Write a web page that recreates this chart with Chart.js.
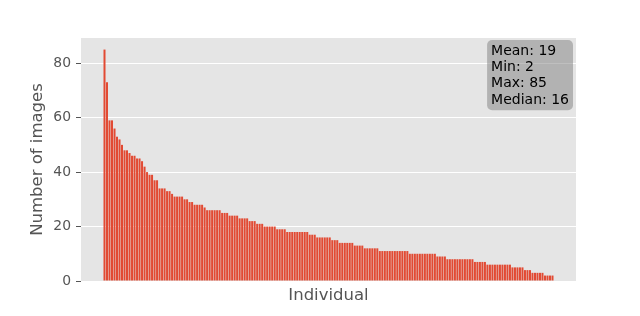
<!DOCTYPE html>
<html>
<head>
<meta charset="utf-8">
<script src="https://cdn.jsdelivr.net/npm/chart.js@4.4.1/dist/chart.umd.min.js"></script>
<style>
html,body{margin:0;padding:0;background:#fff;}
#wrap{width:640px;height:316px;position:relative;}
</style>
</head>
<body>
<div id="wrap"><canvas id="c" width="640" height="316"></canvas></div>
<script>
// Number of images per individual, sorted descending
const counts = [
 85,73,59,59,56,53,52,50,48,48,47,46,46,45,45,44,42,40,39,39,
 37,37,34,34,34,33,33,32,31,31,31,31,30,30,29,29,28,28,28,28,
 27,26,26,26,26,26,26,25,25,25,24,24,24,24,23,23,23,23,22,22,
 22,21,21,21,20,20,20,20,20,19,19,19,19,18,18,18,18,18,18,18,
 18,18,17,17,17,16,16,16,16,16,16,15,15,15,14,14,14,14,14,14,
 13,13,13,13,12,12,12,12,12,12,11,11,11,11,11,11,11,11,11,11,
 11,11,10,10,10,10,10,10,10,10,10,10,10,9,9,9,9,8,8,8,
 8,8,8,8,8,8,8,8,7,7,7,7,7,6,6,6,6,6,6,6,
 6,6,6,5,5,5,5,5,4,4,4,3,3,3,3,3,2,2,2,2
];
const yTicks = [0, 20, 40, 60, 80];
const xTitle = "Individual";
const yTitle = "Number of images";

const sorted = [...counts].sort((a,b)=>a-b);
const n = counts.length;
const mean = counts.reduce((a,b)=>a+b,0)/n;
const median = n%2 ? sorted[(n-1)/2] : (sorted[n/2-1]+sorted[n/2])/2;
const statLines = [
  "Mean: " + Math.round(mean),
  "Min: " + Math.min(...counts),
  "Max: " + Math.max(...counts),
  "Median: " + Math.round(median)
];

const points = counts.map((v,i)=>({x:i, y:v}));
const span = (n - 1) + 0.8;
const xMin = -0.4 - 0.05*span;
const xMax = (n - 1) + 0.4 + 0.05*span;
const yMax = Math.max(...counts)*1.05;

const bgPlugin = {
  id:'bg',
  beforeDraw(chart){
    const {ctx, chartArea:a} = chart;
    ctx.save();
    ctx.fillStyle = '#E5E5E5';
    ctx.fillRect(a.left, a.top, a.right-a.left, a.bottom-a.top);
    ctx.restore();
  }
};

const statsPlugin = {
  id:'stats',
  afterDatasetsDraw(chart){
    const {ctx, chartArea:a} = chart;
    ctx.save();
    ctx.font = '14px "DejaVu Sans"';
    const lh = 16.3;
    let w = 0;
    statLines.forEach(s=>{ w = Math.max(w, ctx.measureText(s).width); });
    const padX = 4, padY = 2.5;
    const bw = w + padX*2, bh = lh*statLines.length + padY*2;
    const x = a.right - 3 - bw, y = a.top + 2;
    const r = 5;
    ctx.beginPath();
    ctx.moveTo(x+r, y);
    ctx.arcTo(x+bw, y, x+bw, y+bh, r);
    ctx.arcTo(x+bw, y+bh, x, y+bh, r);
    ctx.arcTo(x, y+bh, x, y, r);
    ctx.arcTo(x, y, x+bw, y, r);
    ctx.closePath();
    ctx.fillStyle = 'rgba(128,128,128,0.5)';
    ctx.fill();
    ctx.fillStyle = '#000';
    ctx.textBaseline = 'middle';
    statLines.forEach((s,i)=>{
      ctx.fillText(s, x + padX, y + padY + lh*i + lh/2 + 0.5);
    });
    ctx.restore();
  }
};

new Chart(document.getElementById('c'), {
  type:'bar',
  data:{
    datasets:[{
      data: points,
      backgroundColor:'#E24A33',
      borderWidth:0,
      barPercentage:0.8,
      categoryPercentage:1.0
    }]
  },
  options:{
    responsive:false,
    animation:false,
    devicePixelRatio:1,
    layout:{padding:{left:28, top:38, right:64, bottom:0}},
    plugins:{legend:{display:false}, tooltip:{enabled:false}},
    scales:{
      x:{
        type:'linear',
        min:xMin, max:xMax,
        offset:false,
        grid:{display:false},
        border:{display:false},
        ticks:{display:false},
        title:{display:true, text:xTitle, color:'#555555',
          font:{family:'DejaVu Sans', size:16.5}, padding:{top:0, bottom:10}},
        afterFit(s){ s.height = 35; }
      },
      y:{
        min:0, max:yMax,
        afterBuildTicks(s){ s.ticks = yTicks.map(v=>({value:v})); },
        grid:{color:'#FFFFFF', lineWidth:1, tickLength:5, tickColor:'#555555', drawTicks:true},
        border:{display:false},
        ticks:{color:'#555555', font:{family:'DejaVu Sans', size:13.9}, padding:5},
        title:{display:true, text:yTitle, color:'#555555',
          font:{family:'DejaVu Sans', size:16.5}, padding:{top:0,bottom:0}},
        afterFit(s){ s.width = 53; }
      }
    }
  },
  plugins:[bgPlugin, statsPlugin]
});
</script>
</body>
</html>
